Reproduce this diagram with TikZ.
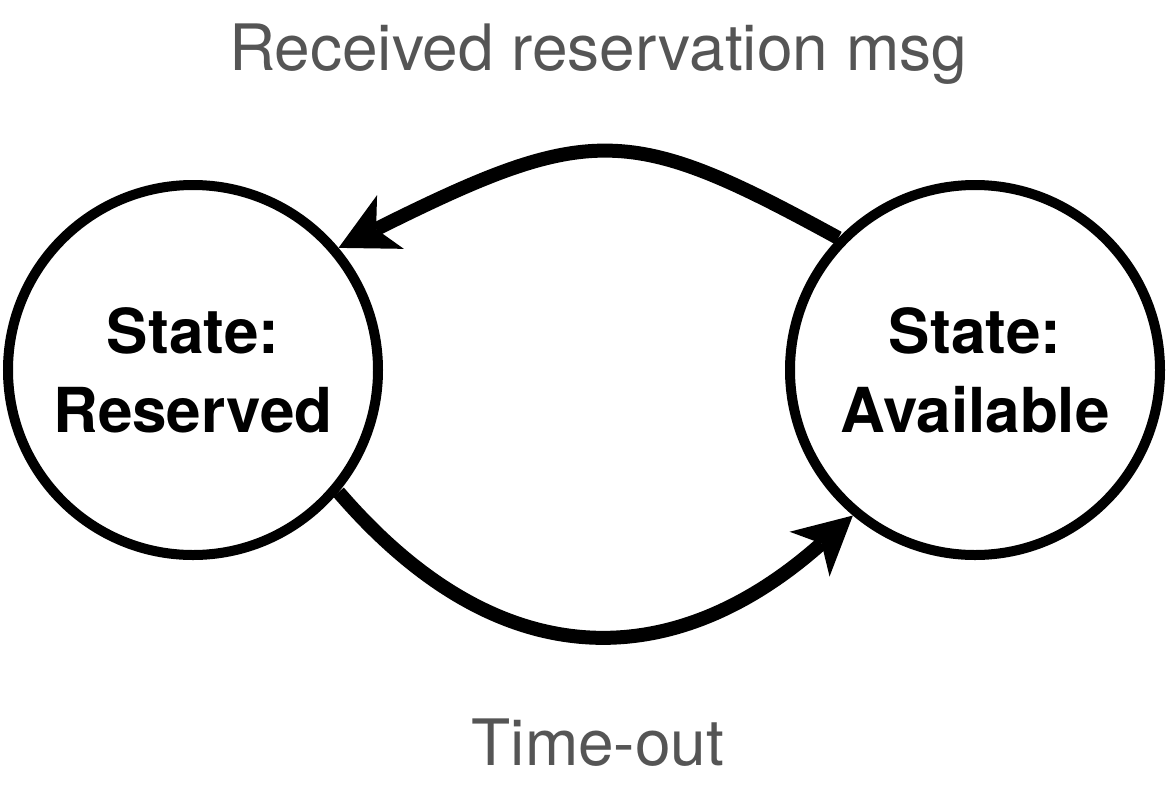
\documentclass[tikz,border=0pt]{standalone}
\usepackage{fontspec}
\setmainfont{TeX Gyre Heros}
\usetikzlibrary{arrows.meta}
\definecolor{labelgray}{RGB}{85,85,85}
\tikzset{
  statenode/.style={circle, draw=black, line width=10pt, minimum size=370pt, inner sep=0pt, outer sep=5pt,
    align=center, font=\fontsize{62}{79}\selectfont\bfseries},
  transition/.style={line width=14pt, -{Stealth[length=58pt, width=60pt, inset=16pt, line width=0pt]}},
  edgelabel/.style={anchor=base, text=labelgray, font=\fontsize{64}{77}\selectfont}
}
\begin{document}
\begin{tikzpicture}[x=1pt, y=-1pt]
\useasboundingbox (0,0) rectangle (1168,788);
\node[statenode] (L) at (193,370) {State:\\Reserved};
\node[statenode] (R) at (975,370) {State:\\Available};
\draw[transition] (R.136) .. controls (630,124) and (591,122) .. (L.40);
\draw[transition] (L.-40) .. controls (507,688) and (683,667) .. (R.-130);
\node[edgelabel] (top) at (598,70) {Received reservation msg};
\node[edgelabel] (bottom) at (598,765) {Time-out};
\end{tikzpicture}
\end{document}
